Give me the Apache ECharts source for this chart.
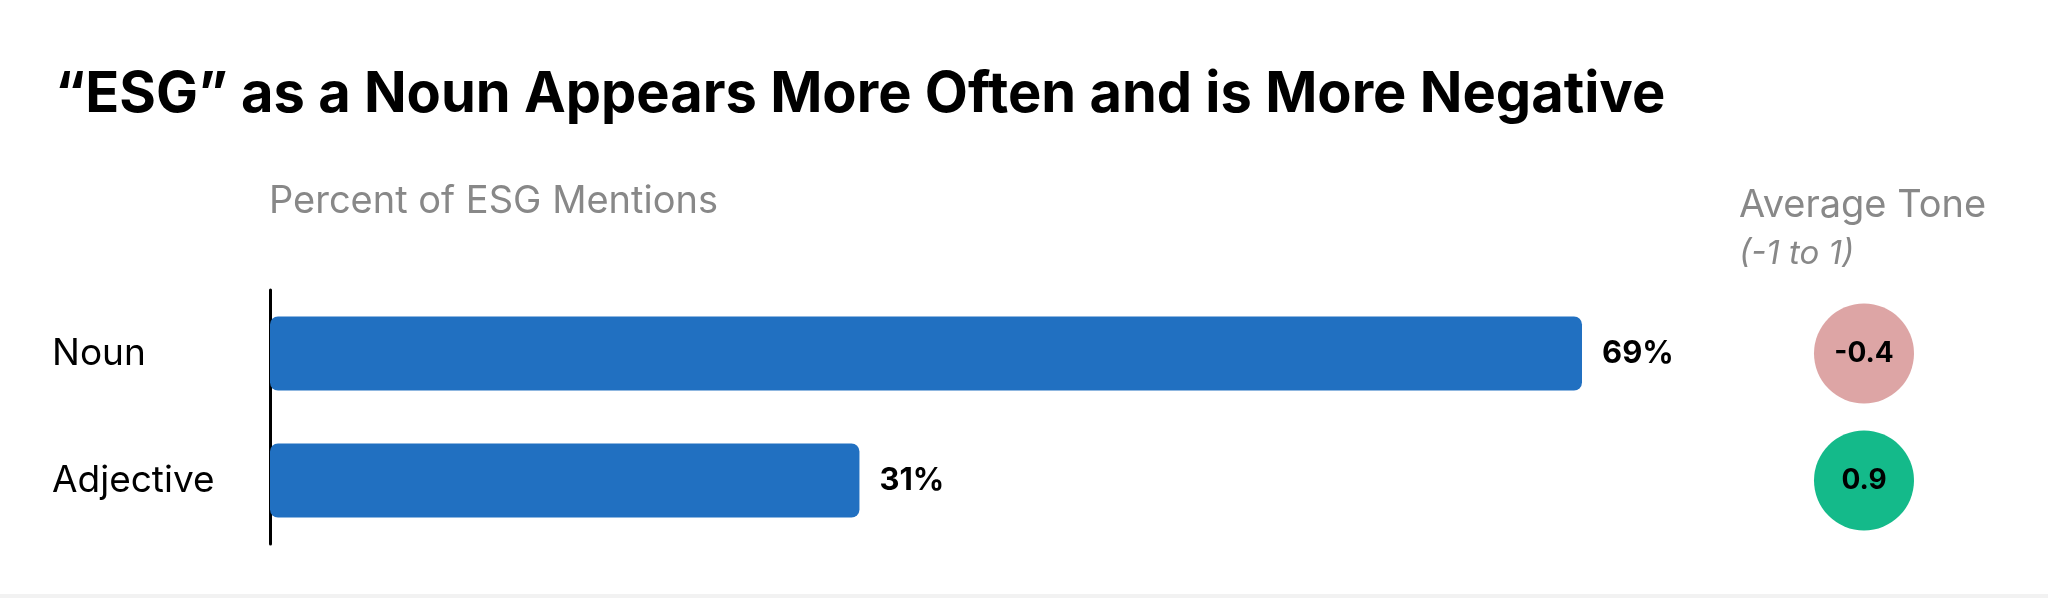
<!DOCTYPE html>
<html>
<head>
<meta charset="utf-8">
<script src="https://cdn.jsdelivr.net/npm/echarts@6/dist/echarts.min.js"></script>
<style>html,body{margin:0;padding:0;background:#fff}#chart{width:2048px;height:598px}</style>
</head>
<body>
<div id="chart"></div>
<script>
var categories = ['Noun', 'Adjective'];
var percents = [69, 31];
var tones = [-0.4, 0.9];
var toneColors = ['#DDA5A5', '#14BA8A'];

var font = 'Inter, "Noto Sans", sans-serif';
var chart = echarts.init(document.getElementById('chart'));

var option = {
    backgroundColor: '#fff',
    animation: false,
    title: [
        {text: '\u201cESG\u201d as a Noun Appears More Often and is More Negative', left: 50, top: 62,
         textStyle: {fontFamily: font, fontSize: 56, fontWeight: 'bold', color: '#000'}},
        {text: 'Percent of ESG Mentions', left: 264, top: 178,
         textStyle: {fontFamily: font, fontSize: 38, fontWeight: 'normal', color: '#888'}},
        {text: 'Average Tone', left: 1734, top: 182,
         textStyle: {fontFamily: font, fontSize: 38, fontWeight: 'normal', color: '#888'}},
        {text: '(-1 to 1)', left: 1734, top: 233,
         textStyle: {fontFamily: font, fontSize: 33, fontStyle: 'italic', fontWeight: 'normal', color: '#888'}}
    ],
    grid: [
        {left: 270, width: 1312, top: 290, height: 254},
        {left: 1814, width: 100, top: 290, height: 254}
    ],
    xAxis: [
        {type: 'value', gridIndex: 0, min: 0, max: 69, show: false},
        {type: 'value', gridIndex: 1, min: 0, max: 1, show: false}
    ],
    yAxis: [
        {type: 'category', gridIndex: 0, data: categories, inverse: true,
         axisTick: {show: false},
         axisLine: {show: true, lineStyle: {color: '#000', width: 3}},
         axisLabel: {fontFamily: font, fontSize: 37, color: '#000', align: 'left', margin: 218}},
        {type: 'category', gridIndex: 1, data: categories, inverse: true, show: false}
    ],
    series: [
        {type: 'bar', xAxisIndex: 0, yAxisIndex: 0, data: percents, barWidth: 74,
         itemStyle: {color: '#2170C1', borderRadius: 8},
         label: {show: true, position: 'right', distance: 20, formatter: '{c}%',
                 fontFamily: font, fontSize: 31, fontWeight: 'bold', color: '#000'}},
        {type: 'scatter', xAxisIndex: 1, yAxisIndex: 1, symbolSize: 100,
         data: tones.map(function (t, i) {
             return {value: [0.5, categories[i]], tone: t, itemStyle: {color: toneColors[i], opacity: 1}};
         }),
         label: {show: true, position: 'inside', formatter: function (p) { return p.data.tone; },
                 fontFamily: font, fontSize: 28, fontWeight: 'bold', color: '#000'}}
    ],
    graphic: [
        {type: 'rect', shape: {x: 0, y: 594, width: 2048, height: 4}, style: {fill: '#f2f2f2'}}
    ]
};
chart.setOption(option);
</script>
</body>
</html>
